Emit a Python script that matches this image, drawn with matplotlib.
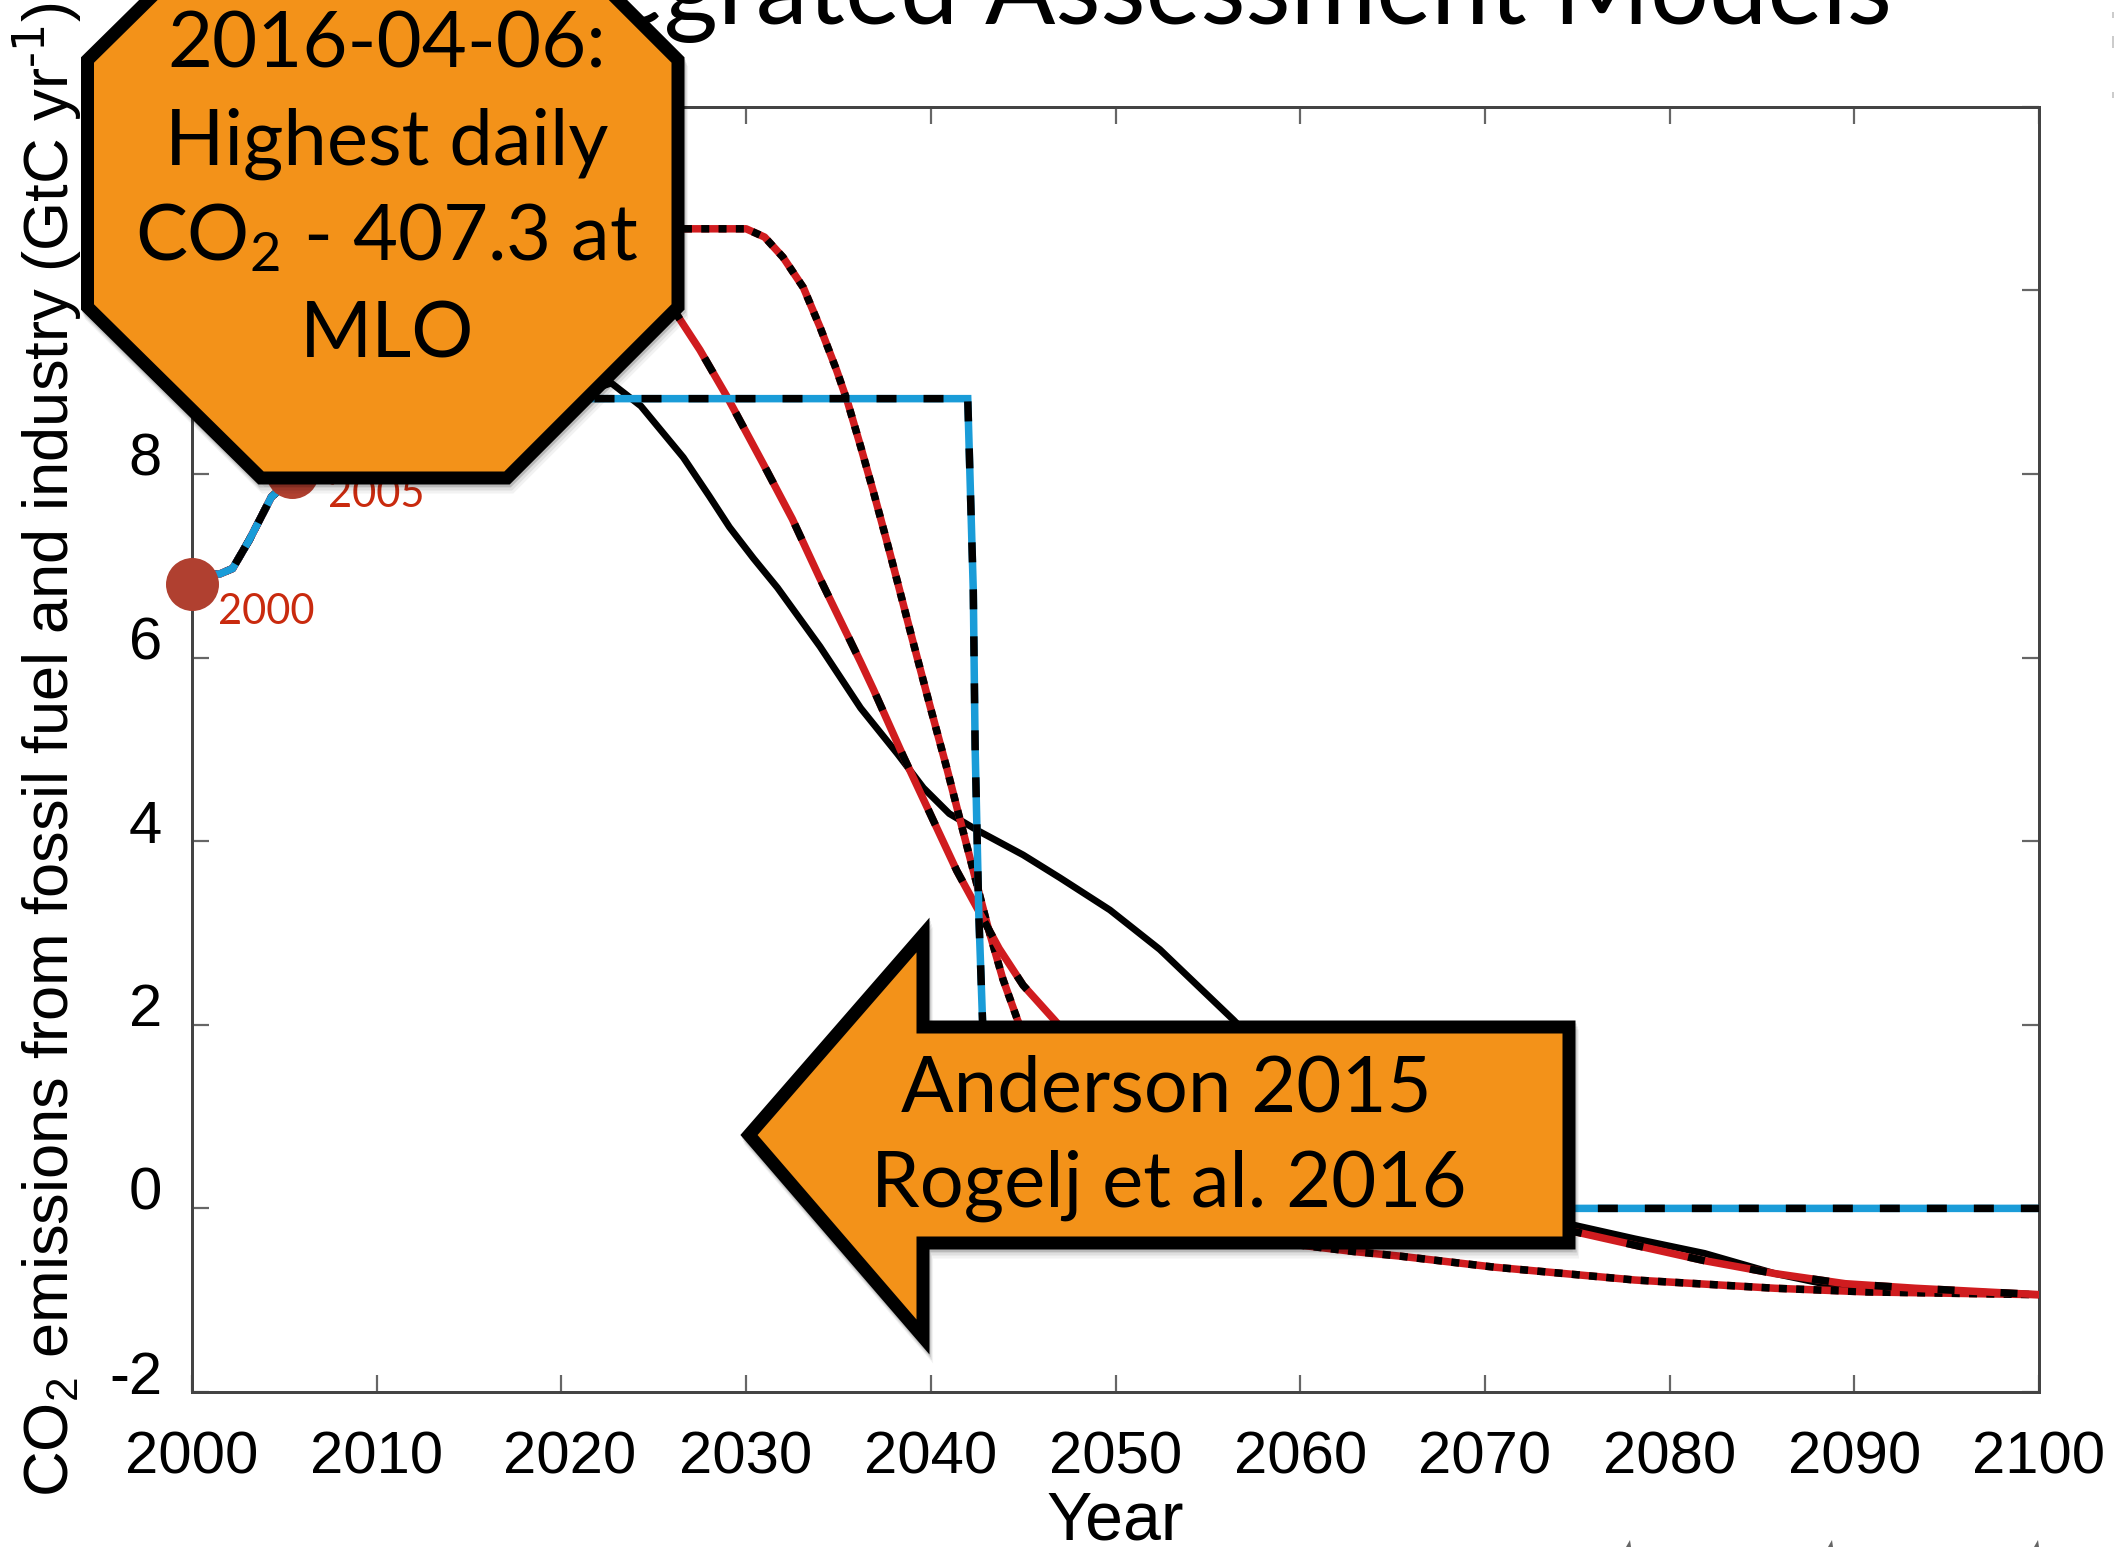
import matplotlib
matplotlib.use('Agg')
import matplotlib.pyplot as plt
from matplotlib.patches import Polygon
from matplotlib.transforms import Affine2D, ScaledTranslation

W, H = 2124, 1547

# pathways (year, GtC/yr)
years_start = [2000, 2001.5, 2002.2, 2003.1, 2004.3, 2006, 2010, 2015, 2020]
vals_start = [6.9, 6.91, 6.97, 7.28, 7.75, 8.05, 8.5, 8.72, 8.8]

years_blue = [2021.7, 2042.0, 2042.3, 2042.4, 2042.6, 2042.8, 2043.5, 2100]
vals_blue = [8.82, 8.82, 6.73, 5.02, 3.2, 2.05, 0, 0]

years_black = [2022.7, 2024.3, 2026.6, 2028.0, 2029.1, 2030.4, 2031.7, 2034, 2036.2, 2038.2, 2039.6, 2041, 2042.5,
               2045, 2047, 2049.7, 2052.4, 2056.4, 2060, 2065, 2070, 2075, 2078.1, 2081.9, 2085.7, 2088.3,
               2093.3, 2100]
vals_black = [8.99, 8.74, 8.18, 7.76, 7.42, 7.08, 6.76, 6.12, 5.45, 4.95, 4.58, 4.3, 4.12,
              3.85, 3.6, 3.25, 2.82, 2.05, 1.3, 0.5, 0.05, -0.19, -0.33, -0.49, -0.71, -0.82,
              -0.88, -0.94]

years_dash = [2022, 2024.5, 2026.3, 2027.5, 2029.0, 2030.9, 2032.5, 2034.0, 2036.2, 2036.9, 2038.5, 2039.8,
              2041.4, 2042.7, 2043.7, 2045, 2046.7, 2050, 2055, 2060, 2065, 2070, 2075, 2078.1,
              2081.9, 2085.7, 2089.5, 2093.3, 2100]
vals_dash = [10.5, 10.2, 9.72, 9.35, 8.83, 8.12, 7.51, 6.86, 5.95, 5.65, 4.93, 4.37,
             3.68, 3.2, 2.83, 2.43, 2.05, 1.3, 0.6, 0.2, 0.0, -0.1, -0.26, -0.40,
             -0.57, -0.71, -0.82, -0.87, -0.94]

years_dot = [2022, 2026.7, 2030.0, 2031.0, 2032.0, 2033.1, 2034.0, 2034.9, 2035.5, 2036.2, 2036.9, 2037.6,
             2038.2, 2039.0, 2039.96, 2040.9, 2041.6, 2042.3, 2043.1, 2043.9, 2044.7, 2047, 2050, 2055,
             2060, 2062.9, 2065.4, 2070.5, 2078.1, 2085.7, 2090.7, 2100]
vals_dot = [10.6, 10.67, 10.67, 10.58, 10.36, 10.03, 9.6, 9.13, 8.78, 8.3, 7.8, 7.28,
            6.82, 6.2, 5.47, 4.77, 4.22, 3.68, 3.06, 2.5, 2.05, 1.0, 0.2, -0.2,
            -0.4, -0.47, -0.52, -0.64, -0.78, -0.87, -0.91, -0.94]

dot_years = [2000, 2005.4]
dot_vals = [6.8, 8.02]
dot_labels = ['2000', '2005']

x_ticks = list(range(2000, 2101, 10))
y_ticks = [-2, 0, 2, 4, 6, 8, 10, 12]

plt.rcParams['lines.scale_dashes'] = False
plt.rcParams['mathtext.default'] = 'regular'
plt.rcParams['font.family'] = 'Liberation Sans'
plt.rcParams['axes.unicode_minus'] = False

PX = 0.72  # points per pixel at dpi 100
ORANGE = '#f39219'
BLUE = '#1a9cd8'
RED = '#d01c1f'

fig = plt.figure(figsize=(W / 100, H / 100), dpi=100)
px = Affine2D().scale(1 / W, -1 / H).translate(0, 1) + fig.transFigure

ax = fig.add_axes([192 / W, 1 - 1392 / H, (2039 - 192) / W, (1392 - 106.7) / H])
ax.set_xlim(2000, 2100)
ax.set_ylim(-2, 12)
ax.set_xticks(x_ticks)
ax.set_yticks(y_ticks)
ax.tick_params(direction='in', top=True, right=True, length=17 * PX, width=2.2 * PX, color='#666666',
               labelsize=43, labelcolor='black')
ax.tick_params(axis='x', pad=38 * PX)
ax.tick_params(axis='y', pad=30 * PX)
for s in ax.spines.values():
    s.set_linewidth(3 * PX)
    s.set_color('#444444')

# the tick labels sit a bit off the ticks in the original
for lab in ax.get_yticklabels():
    lab.set_transform(lab.get_transform() + ScaledTranslation(0, 20 / 100, fig.dpi_scale_trans))
ax.get_xticklabels()[2].set_transform(
    ax.get_xticklabels()[2].get_transform() + ScaledTranslation(8 / 100, 0, fig.dpi_scale_trans))

lw = 7.5 * PX
ax.plot(years_start + years_black, vals_start + vals_black, color='black', lw=lw - 0.5, zorder=2)

ax.plot(years_start + years_dot, vals_start + vals_dot, color=RED, lw=lw, zorder=3)
ax.plot(years_start + years_dot, vals_start + vals_dot, color='black', lw=lw,
        dash_capstyle='butt', ls=(0, (8 * PX, 9.3 * PX)), zorder=3)

ax.plot(years_start + years_dash, vals_start + vals_dash, color=RED, lw=lw, zorder=4)
ax.plot(years_start + years_dash, vals_start + vals_dash, color='black', lw=lw,
        dash_capstyle='butt', ls=(0, (17 * PX, 46 * PX)), zorder=4)

ax.plot(years_start + years_blue, vals_start + vals_blue, color=BLUE, lw=lw, zorder=5, solid_joinstyle='miter')
ax.plot(years_start + years_blue, vals_start + vals_blue, color='black', lw=lw,
        dash_capstyle='butt', ls=(0, (20 * PX, 27 * PX)), zorder=5)

ax.scatter(dot_years, dot_vals, s=(53 * PX) ** 2, color='#b04030', linewidths=0, zorder=6, clip_on=False)

fig.text(1115, 1540, 'Year', transform=px, fontsize=49, ha='center', va='baseline')
fig.text(47, 1497, r'CO$_2$ emissions from fossil fuel and industry (GtC yr$^{\text{-1}}$)', transform=px,
         fontsize=45.5, rotation=90, ha='center', va='bottom')

fig.text(218, 624, dot_labels[0], transform=px, family='Lato', fontsize=30, color='#c92a0e', zorder=3)
fig.text(328, 507, dot_labels[1], transform=px, family='Lato', fontsize=30, color='#c92a0e', zorder=3)

fig.text(1892, 24, 'Integrated Assessment Models', transform=px, family='Lato', fontsize=75,
         ha='right', va='baseline', zorder=1)

# specks left along the edges of the slide
for x0 in (1629, 1831, 2037):
    fig.add_artist(Polygon([(x0 - 3, 1547), (x0 + 1, 1540), (x0 + 2, 1547)], closed=True, transform=px,
                           fc='#666666', ec='none', zorder=1))
for y0, y1 in ((12, 18), (36, 48), (92, 98)):
    fig.add_artist(Polygon([(2112, y0), (2114, y0), (2114, y1), (2112, y1)], closed=True, transform=px,
                           fc='#cccccc', ec='none', zorder=1))


def callout(points):
    # soft shadow, then the orange shape with its heavy outline
    for off, a in ((9, 0.05), (6, 0.08), (3, 0.12)):
        fig.add_artist(Polygon([(x + off * 0.4, y + off) for x, y in points], closed=True, transform=px,
                               fc='black', ec='black', lw=13 * PX, alpha=a, zorder=8, joinstyle='miter'))
    fig.add_artist(Polygon(points, closed=True, transform=px, fc=ORANGE, ec='black', lw=13 * PX,
                           zorder=9, joinstyle='miter'))


callout([(261, -111), (507, -111), (678, 60), (678, 307), (507, 478), (261, 478), (87.5, 307), (87.5, 60)])
callout([(749, 1135), (923, 935), (923, 1027), (1569, 1027), (1569, 1243), (923, 1243), (923, 1337)])

octagon_lines = ['2016-04-06:', 'Highest daily', 'CO$_2$ - 407.3 at', 'MLO']
for line, y in zip(octagon_lines, [68, 165, 260, 357]):
    fig.text(387, y, line, transform=px, family='Lato', fontsize=56, ha='center', va='baseline', zorder=10)
fig.text(1166, 1112, 'Anderson 2015', transform=px, family='Lato', fontsize=56, ha='center', va='baseline', zorder=10)
fig.text(1169, 1207, 'Rogelj et al. 2016', transform=px, family='Lato', fontsize=56, ha='center', va='baseline', zorder=10)

fig.savefig('out.png', dpi=100)
